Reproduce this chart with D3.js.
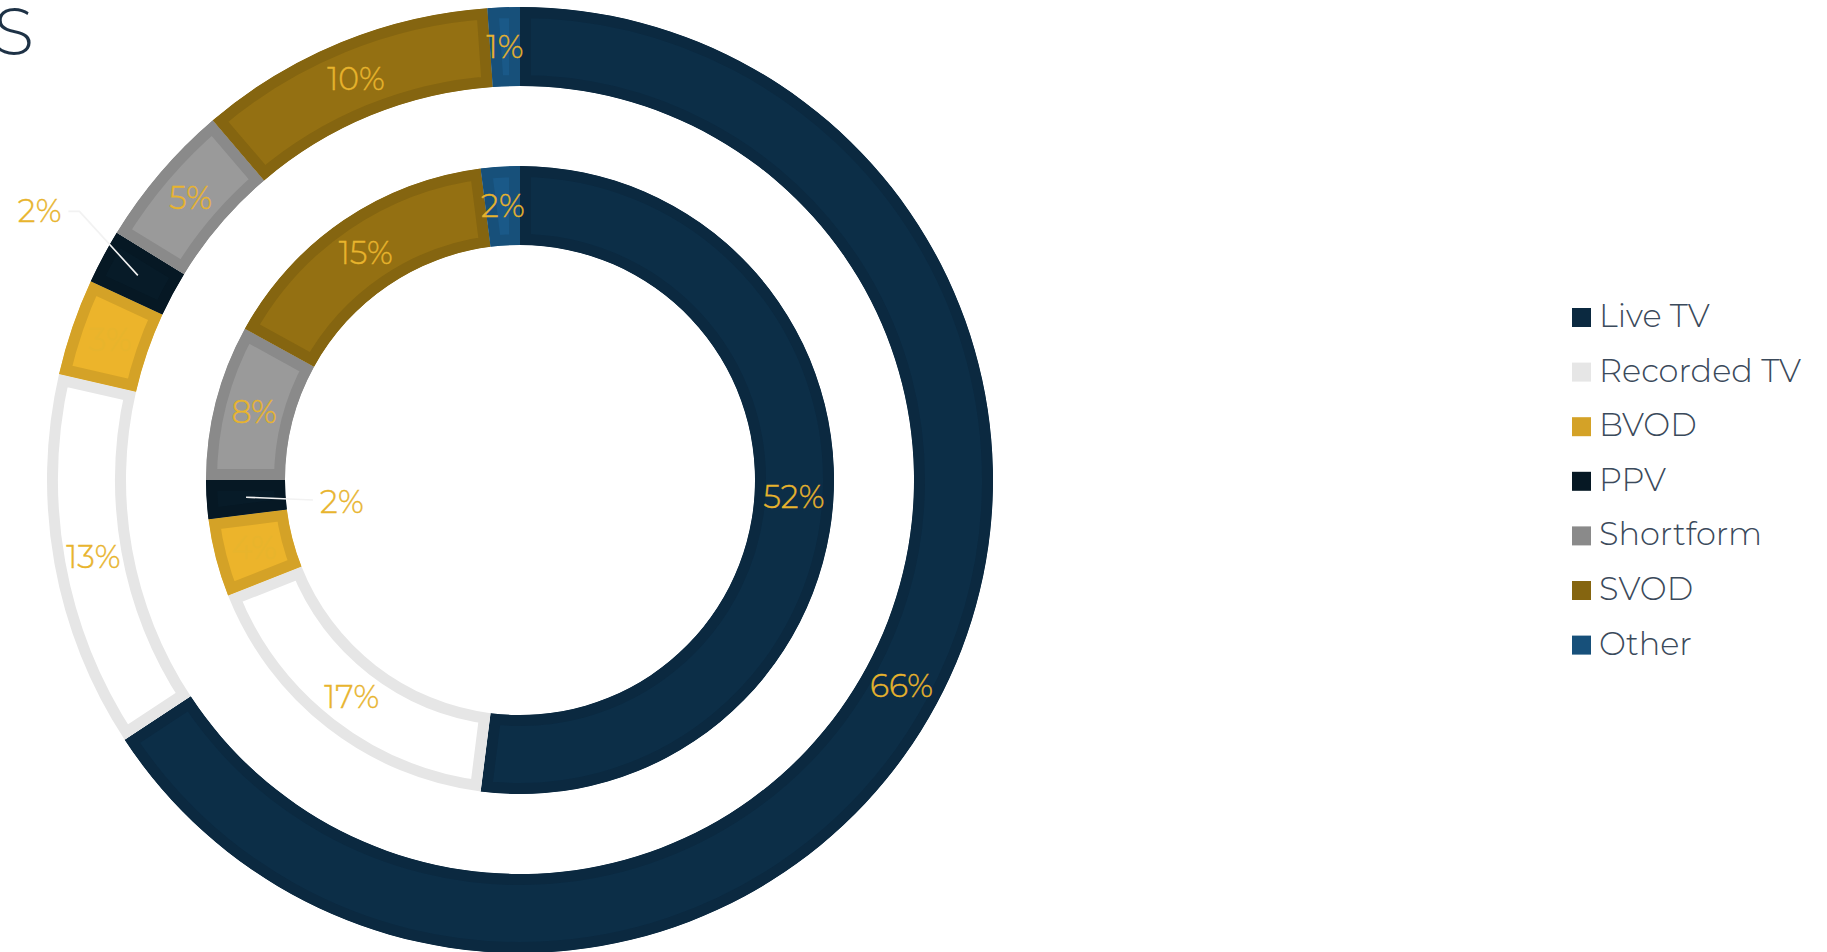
<!DOCTYPE html>
<html>
<head>
<meta charset="utf-8">
<script src="https://cdn.jsdelivr.net/npm/d3@7"></script>
<style>
  html, body { margin: 0; padding: 0; background: #ffffff; overflow: hidden; }
  svg { display: block; }
  text { font-family: Montserrat, "Open Sans", Lato, "Noto Sans", sans-serif; font-weight: 300; }
</style>
</head>
<body>
<svg id="chart" width="1827" height="952"></svg>
<script>
// ---- data ----
const categories = ["Live TV", "Recorded TV", "BVOD", "PPV", "Shortform", "SVOD", "Other"];
const colors = ["#0b2940", "#e6e6e6", "#d4a227", "#061824", "#8a8a8a", "#856510", "#17507a"];
const outerValues = [65.75, 12.85, 3.3, 1.85, 5.0, 10.15, 1.1];
const innerValues = [52, 17, 4, 2, 8, 15, 2];
const titleText = "S";
// labels drawn outside with a leader line
const outerCallout = ["PPV"];
const innerCallout = ["PPV"];

// ---- layout ----
const W = 1827, H = 952;
const cx = 520, cy = 480;
const outerR = [394, 473];
const innerR = [235, 314];
const border = 11;
const labelColor = "#e8b42d";

const svg = d3.select("#chart");

svg.append("text")
  .attr("x", 34).attr("y", 55)
  .attr("text-anchor", "end")
  .attr("font-size", 66)
  .attr("fill", "#1e3246")
  .text(titleText);

const color = d3.scaleOrdinal().domain(categories).range(colors);
const pie = d3.pie().sort(null).value(d => d.v);
const fmt = v => Math.round(v) + "%";

function label(g, x, y, anchor, txt) {
  g.append("text")
    .attr("x", x).attr("y", y)
    .attr("text-anchor", anchor)
    .attr("dominant-baseline", "central")
    .attr("font-size", 31.5)
    .attr("fill", labelColor)
    .attr("stroke", labelColor)
    .attr("stroke-width", 0.4)
    .text(txt);
}

function ring(values, radii, name, callouts, calloutMode) {
  const data = pie(categories.map((c, i) => ({ c, v: values[i] })));
  const arc = d3.arc().innerRadius(radii[0]).outerRadius(radii[1]);
  const g = svg.append("g").attr("transform", `translate(${cx},${cy})`);
  const defs = svg.append("defs");
  data.forEach((d, i) => {
    defs.append("clipPath").attr("id", `${name}-clip-${i}`)
      .append("path").attr("d", arc(d));
  });
  g.selectAll("path.slice").data(data).join("path")
    .attr("class", "slice")
    .attr("d", arc)
    .attr("fill", d => d3.color(color(d.data.c)).brighter(0.3))
    .attr("stroke", d => color(d.data.c))
    .attr("stroke-width", border * 2)
    .attr("clip-path", (d, i) => `url(#${name}-clip-${i})`);

  data.forEach(d => {
    const [x, y] = arc.centroid(d);
    const txt = fmt(d.data.v);
    if (callouts.includes(d.data.c)) {
      const mid = (d.startAngle + d.endAngle) / 2;
      const pt = (a, r) => [r * Math.sin(a), -r * Math.cos(a)];
      let pts, lx, ly, anchor;
      if (calloutMode === "out") {
        const e = pt(mid + 3.2 * Math.PI / 180, radii[1] + 43);
        const h = [e[0] - 11, e[1]];
        pts = [[x, y], e, h];
        lx = h[0] - 7; ly = h[1]; anchor = "end";
      } else {
        const e = pt(mid - 1.9 * Math.PI / 180, radii[0] - 27);
        pts = [[x, y], e];
        lx = e[0] + 7; ly = e[1] + 2; anchor = "start";
      }
      g.append("path")
        .attr("d", d3.line()(pts))
        .attr("fill", "none")
        .attr("stroke", "#f2f2f2")
        .attr("stroke-width", 1.6);
      label(g, lx, ly, anchor, txt);
    } else {
      label(g, x, y, "middle", txt);
    }
  });
}

ring(outerValues, outerR, "outer", outerCallout, "out");
ring(innerValues, innerR, "inner", innerCallout, "in");

// ---- legend ----
const legendX = 1572, legendY0 = 327, legendStep = 54.6, sq = 19;
const lg = svg.append("g");
categories.forEach((c, i) => {
  const y = legendY0 + i * legendStep;
  lg.append("rect")
    .attr("x", legendX).attr("y", y - sq)
    .attr("width", sq).attr("height", sq)
    .attr("fill", color(c));
  lg.append("text")
    .attr("x", legendX + 27).attr("y", y)
    .attr("font-size", 32)
    .attr("fill", "#3b4a5b")
    .text(c);
});
</script>
</body>
</html>
